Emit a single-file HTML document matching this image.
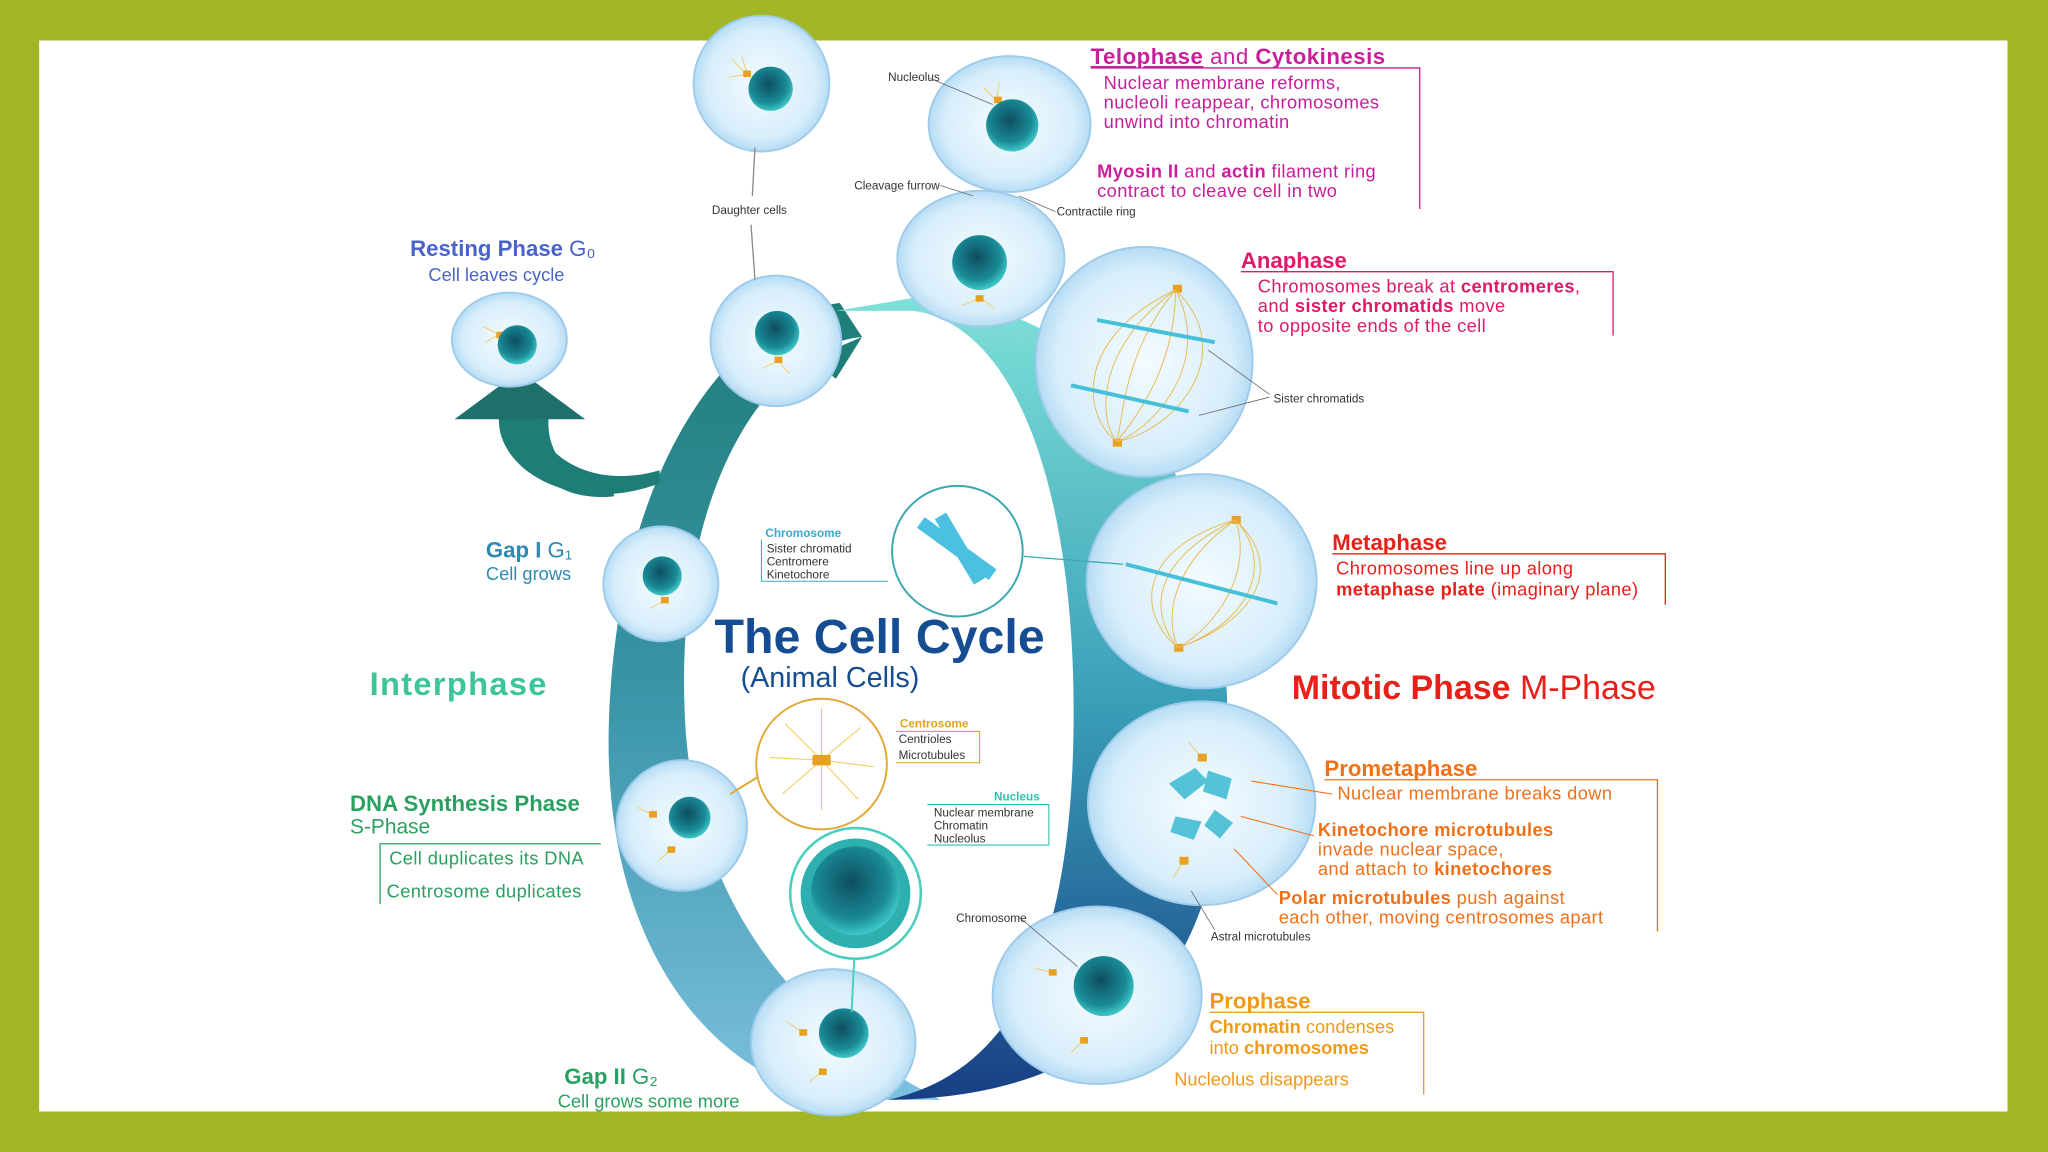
<!DOCTYPE html>
<html><head><meta charset="utf-8"><style>
html,body{margin:0;padding:0;background:#a1b526;}
svg{display:block;}
text{font-family:"Liberation Sans",sans-serif;}
</style></head><body>
<svg width="2048" height="1152" viewBox="0 0 1568 882" preserveAspectRatio="none" xmlns="http://www.w3.org/2000/svg">
<defs>
<linearGradient id="ringL" x1="0" y1="0" x2="0" y2="1">
<stop offset="0" stop-color="#1f7d78"/><stop offset="0.5" stop-color="#3a96a8"/><stop offset="1" stop-color="#7cc0e0"/></linearGradient>
<linearGradient id="ringR" x1="0" y1="0" x2="0" y2="1">
<stop offset="0" stop-color="#7fe0d8"/><stop offset="0.5" stop-color="#3aa0b8"/><stop offset="1" stop-color="#173f85"/></linearGradient>
<radialGradient id="cell" cx="0.5" cy="0.5" r="0.5">
<stop offset="0" stop-color="#f4fbff"/><stop offset="0.8" stop-color="#d8eefb"/><stop offset="1" stop-color="#b6dcf4"/></radialGradient>
<radialGradient id="nuc" cx="0.45" cy="0.4" r="0.6">
<stop offset="0" stop-color="#0d4e60"/><stop offset="0.7" stop-color="#1a8a96"/><stop offset="1" stop-color="#3fc8c8"/></radialGradient>
</defs>
<rect x="0" y="0" width="1568" height="882" fill="#a1b526"/>
<rect x="30" y="31" width="1507" height="820" fill="#fff"/>

<!-- ring -->
<path d="M643 232 C560 240 470 360 466 560 C463 740 560 840 660 842 L720 842 C700 830 540 760 525 560 C512 360 600 262 660 258 Z" fill="url(#ringL)"/>
<path d="M640 238 L700 228 C860 232 940 380 940 560 C940 740 860 840 680 842 C780 820 822 720 822 545 C822 380 780 250 700 238 Z" fill="url(#ringR)"/>
<path d="M470 380 C420 385 395 350 400 320 L420 320 C418 350 440 372 470 370 Z" fill="#1f7d78"/>
<path d="M505 370 C440 395 380 360 382 320 L410 320 C415 350 455 375 505 360 Z" fill="#1f7d78"/>
<polygon points="348,321 398,284 448,321" fill="#1f6f6a"/>
<polygon points="620,275 660,258 640,290" fill="#1f7d78"/>

<!-- cells -->
<g stroke="#9fcbeb" stroke-width="1.5" fill="url(#cell)">
<circle cx="583" cy="64" r="52"/>
<ellipse cx="773" cy="95" rx="62" ry="52"/>
<ellipse cx="751" cy="198" rx="64" ry="52"/>
<circle cx="594" cy="261" r="50"/>
<ellipse cx="390" cy="260" rx="44" ry="36"/>
<ellipse cx="876" cy="277" rx="83" ry="88"/>
<ellipse cx="920" cy="445" rx="88" ry="82"/>
<circle cx="506" cy="447" r="44"/>
<circle cx="522" cy="632" r="50"/>
<ellipse cx="920" cy="615" rx="87" ry="78"/>
<ellipse cx="840" cy="762" rx="80" ry="68"/>
<ellipse cx="638" cy="798" rx="63" ry="56"/>
</g>
<!-- rays -->
<g stroke="#f0cc60" stroke-width="0.7">
<path d="M572 57 l-12 -12 M572 57 l-14 2 M572 57 l-4 -14 M763 77 l-10 -10 M763 77 l2 -14 M751 228 l-14 6 M751 228 l10 8 M596 276 l-12 6 M596 276 l8 10 M382 256 l-12 -6 M382 256 l-10 6 M508 460 l-10 6 M500 624 l-12 -6 M514 651 l-10 8 M614 790 l-12 -8 M630 820 l-10 8 M806 745 l-14 -4 M830 796 l-10 10 M920 580 l-10 -12 M906 660 l-8 12"/>
</g>
<g fill="#e8a020">
<rect x="569" y="54" width="6" height="5"/><rect x="761" y="74" width="6" height="5"/><rect x="747" y="226" width="6" height="5"/>
<rect x="593" y="273" width="6" height="5"/><rect x="380" y="254" width="6" height="5"/><rect x="506" y="457" width="6" height="5"/>
<rect x="497" y="621" width="6" height="5"/><rect x="511" y="648" width="6" height="5"/><rect x="612" y="788" width="6" height="5"/>
<rect x="627" y="818" width="6" height="5"/><rect x="803" y="742" width="6" height="5"/><rect x="827" y="794" width="6" height="5"/>
<rect x="898" y="218" width="7" height="6"/><rect x="852" y="336" width="7" height="6"/><rect x="943" y="395" width="7" height="6"/><rect x="899" y="493" width="7" height="6"/>
<rect x="917" y="577" width="7" height="6"/><rect x="903" y="656" width="7" height="6"/>
</g>
<g fill="url(#nuc)">
<circle cx="590" cy="68" r="17"/>
<circle cx="775" cy="96" r="20"/>
<circle cx="750" cy="201" r="21"/>
<circle cx="595" cy="255" r="17"/>
<circle cx="396" cy="264" r="15"/>
<circle cx="507" cy="441" r="15"/>
<circle cx="528" cy="626" r="16"/>
<circle cx="646" cy="791" r="19"/>
<circle cx="845" cy="755" r="23"/>
</g>
<g fill="#3ab8d0" opacity="0.85">
<path d="M895 600 l20 -12 l10 10 l-18 14 z M925 590 l18 6 l-4 16 l-18 -6 z M900 625 l20 4 l-6 14 l-18 -6 z M930 620 l14 10 l-10 12 l-12 -10 z"/>
</g>
<!-- spindle -->
<g stroke="#e8b84a" stroke-width="0.7" fill="none">
<path d="M900 222 C820 260 830 320 855 338 M900 222 C840 265 840 320 855 338 M900 222 C860 270 860 320 855 338 M900 222 C900 280 870 320 855 338 M900 222 C930 280 880 330 855 338 M900 222 C950 270 900 330 855 338"/>
<path d="M946 398 C870 420 870 470 902 496 M946 398 C880 430 880 470 902 496 M946 398 C900 430 890 470 902 496 M946 398 C960 440 930 480 902 496 M946 398 C990 440 950 480 902 496 M946 398 C975 430 960 475 902 496"/>
</g>
<g stroke="#46c0d8" stroke-width="3">
<path d="M840 245 L930 262 M820 295 L910 315"/>
<path d="M862 432 L978 462"/>
</g>

<!-- detail circles -->
<circle cx="733" cy="422" r="50" fill="#fff" stroke="#3aa8b0" stroke-width="1.5"/>
<path d="M705 400 L760 440 M720 395 L750 445" stroke="#4cc0e0" stroke-width="10"/>
<circle cx="629" cy="585" r="50" fill="#fff" stroke="#e0a93a" stroke-width="1.5"/>
<g stroke="#f0cc60" stroke-width="0.8"><path d="M629 582 l0 -40 M629 582 l30 -25 M629 582 l40 5 M629 582 l28 30 M629 582 l0 38 M629 582 l-30 26 M629 582 l-40 -2 M629 582 l-28 -28"/></g>
<rect x="622" y="578" width="14" height="8" fill="#e8a020"/>
<circle cx="655" cy="684" r="50" fill="#fff" stroke="#4ccfc0" stroke-width="2"/>
<circle cx="655" cy="684" r="42" fill="#2fb0b0"/>
<circle cx="655" cy="682" r="34" fill="url(#nuc)"/>
<path d="M654 734 L652 775" stroke="#4ccfc0" stroke-width="1.5"/>
<path d="M578 113 L576 150 M575 172 L578 214" stroke="#888" stroke-width="1"/>
<path d="M559 608 L580 595" stroke="#e0a93a" stroke-width="1.5"/>
<path d="M784 426 L860 432" stroke="#3aa8b0" stroke-width="1"/>

<!-- Title -->
<text x="547" y="500" font-size="37" font-weight="bold" fill="#154c92">The Cell Cycle</text>
<text x="567" y="526" font-size="22" fill="#154c92">(Animal Cells)</text>
<text x="283" y="532" font-size="25" font-weight="bold" fill="#3cc49a" letter-spacing="1">Interphase</text>
<text x="989" y="535" font-size="26" fill="#e8201a"><tspan font-weight="bold">Mitotic Phase</tspan> M-Phase</text>

<!-- left labels -->
<text x="314" y="196" font-size="17" font-weight="bold" fill="#4a63c8">Resting Phase <tspan font-weight="normal">G₀</tspan></text>
<text x="328" y="215" font-size="14" fill="#4a63c8">Cell leaves cycle</text>
<text x="372" y="427" font-size="17" font-weight="bold" fill="#2d8ab4">Gap I <tspan font-weight="normal">G₁</tspan></text>
<text x="372" y="444" font-size="14" fill="#2d8ab4">Cell grows</text>
<text x="268" y="621" font-size="17" font-weight="bold" fill="#2aa060">DNA Synthesis Phase</text>
<text x="268" y="638" font-size="16" fill="#2aa060">S-Phase</text>
<path d="M460 646 L291 646 L291 692" stroke="#2aa060" fill="none" stroke-width="1"/>
<text x="298" y="662" font-size="14" fill="#2aa060" letter-spacing="0.3">Cell duplicates its DNA</text>
<text x="296" y="687" font-size="14" fill="#2aa060" letter-spacing="0.3">Centrosome duplicates</text>
<text x="432" y="830" font-size="17" font-weight="bold" fill="#2aa060">Gap II <tspan font-weight="normal">G₂</tspan></text>
<text x="427" y="848" font-size="14" fill="#2aa060">Cell grows some more</text>

<!-- small labels -->
<g font-size="9" fill="#333">
<text x="680" y="62">Nucleolus</text>
<text x="654" y="145">Cleavage furrow</text>
<text x="809" y="165">Contractile ring</text>
<text x="545" y="164">Daughter cells</text>
<text x="975" y="308">Sister chromatids</text>
<text x="732" y="706">Chromosome</text>
<text x="927" y="720">Astral microtubules</text>
</g>
<g stroke="#666" stroke-width="0.6"><path d="M712 60 L760 80 M720 142 L745 150 M780 150 L808 162 M925 268 L972 302 M918 318 L972 304 M780 702 L825 740 M912 682 L930 712"/></g>
<g stroke="#f07018" stroke-width="0.8"><path d="M958 598 L1020 608 M950 625 L1006 640 M945 650 L978 685"/></g>
<text x="586" y="411" font-size="9" font-weight="bold" fill="#3aa8d0">Chromosome</text>
<path d="M583 413 L583 445 L680 445" stroke="#3aa8d0" fill="none" stroke-width="0.8"/>
<g font-size="9" fill="#333"><text x="587" y="423">Sister chromatid</text><text x="587" y="433">Centromere</text><text x="587" y="443">Kinetochore</text></g>
<text x="689" y="557" font-size="9" font-weight="bold" fill="#e0a020">Centrosome</text>
<path d="M686 560 L750 560 L750 584 L686 584" stroke="#e0a020" fill="none" stroke-width="0.8"/>
<g font-size="9" fill="#333"><text x="688" y="569">Centrioles</text><text x="688" y="581">Microtubules</text></g>
<text x="761" y="613" font-size="9" font-weight="bold" fill="#30c0b0">Nucleus</text>
<path d="M710 616 L803 616 L803 647 L710 647" stroke="#30c0b0" fill="none" stroke-width="0.8"/>
<g font-size="9" fill="#333"><text x="715" y="625">Nuclear membrane</text><text x="715" y="635">Chromatin</text><text x="715" y="645">Nucleolus</text></g>

<!-- right labels -->
<text x="835" y="49" font-size="17" fill="#c81e9a" letter-spacing="0.4"><tspan font-weight="bold" text-decoration="underline">Telophase</tspan> and <tspan font-weight="bold">Cytokinesis</tspan></text>
<path d="M835 52 L1087 52 L1087 160" stroke="#c81e9a" fill="none" stroke-width="1"/>
<g font-size="14" fill="#c81e9a" letter-spacing="0.3"><text x="845" y="68">Nuclear membrane reforms,</text><text x="845" y="83">nucleoli reappear, chromosomes</text><text x="845" y="98">unwind into chromatin</text>
<text x="840" y="136"><tspan font-weight="bold">Myosin II</tspan> and <tspan font-weight="bold">actin</tspan> filament ring</text><text x="840" y="151">contract to cleave cell in two</text></g>
<text x="950" y="205" font-size="17" font-weight="bold" fill="#e0186a">Anaphase</text>
<path d="M950 208 L1235 208 L1235 257" stroke="#e0186a" fill="none" stroke-width="1"/>
<g font-size="14" fill="#e0186a" letter-spacing="0.3"><text x="963" y="224">Chromosomes break at <tspan font-weight="bold">centromeres</tspan>,</text><text x="963" y="239">and <tspan font-weight="bold">sister chromatids</tspan> move</text><text x="963" y="254">to opposite ends of the cell</text></g>
<text x="1020" y="421" font-size="17" font-weight="bold" fill="#e8201a">Metaphase</text>
<path d="M1020 424 L1275 424 L1275 463" stroke="#e8201a" fill="none" stroke-width="1"/>
<g font-size="14" fill="#e8201a" letter-spacing="0.3"><text x="1023" y="440">Chromosomes line up along</text><text x="1023" y="456"><tspan font-weight="bold">metaphase plate</tspan> (imaginary plane)</text></g>
<text x="1014" y="594" font-size="17" font-weight="bold" fill="#f07018">Prometaphase</text>
<path d="M1014 597 L1269 597 L1269 713" stroke="#f07018" fill="none" stroke-width="1"/>
<g font-size="14" fill="#f07018" letter-spacing="0.3"><text x="1024" y="612">Nuclear membrane breaks down</text>
<text x="1009" y="640" font-weight="bold">Kinetochore microtubules</text><text x="1009" y="655">invade nuclear space,</text><text x="1009" y="670">and attach to <tspan font-weight="bold">kinetochores</tspan></text>
<text x="979" y="692"><tspan font-weight="bold">Polar microtubules</tspan> push against</text><text x="979" y="707">each other, moving centrosomes apart</text></g>
<text x="926" y="772" font-size="17" font-weight="bold" fill="#f09a18">Prophase</text>
<path d="M926 775 L1090 775 L1090 838" stroke="#f09a18" fill="none" stroke-width="1"/>
<g font-size="14" fill="#f09a18"><text x="926" y="791"><tspan font-weight="bold">Chromatin</tspan> condenses</text><text x="926" y="807">into <tspan font-weight="bold">chromosomes</tspan></text><text x="899" y="831">Nucleolus disappears</text></g>
</svg>
</body></html>
